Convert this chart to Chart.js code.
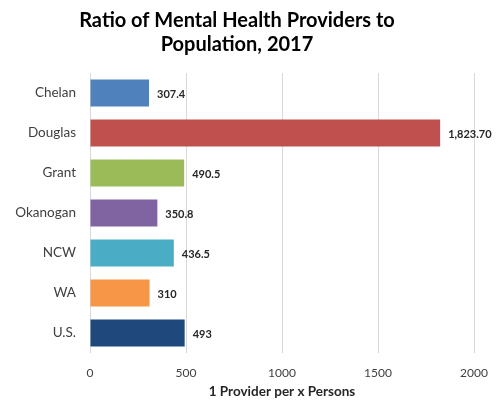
<!DOCTYPE html>
<html lang="en">
<head>
    <meta charset="UTF-8">
    <title>Ratio of Mental Health Providers to Population, 2017</title>
    <script src="https://cdn.jsdelivr.net/npm/chart.js"></script>
    <style>
        body { margin: 0; background: white; }
        #wrap { width: 497px; height: 400px; }
    </style>
</head>
<body>
    <div id="wrap"><canvas id="ratioChart" width="497" height="400"></canvas></div>

    <script>
        const regions = ["Chelan", "Douglas", "Grant", "Okanogan", "NCW", "WA", "U.S."];
        const ratios = [307.4, 1823.7, 490.5, 350.8, 436.5, 310, 493];
        const ratioLabels = ["307.4", "1,823.70", "490.5", "350.8", "436.5", "310", "493"];
        const barColors = ["#4F81BD", "#C0504D", "#9BBB59", "#8064A2", "#4BACC6", "#F79646", "#1F497D"];
        const xTicks = [0, 500, 1000, 1500, 2000];

        // writes the value just past the end of each bar
        const valueLabels = {
            id: "valueLabels",
            afterDatasetsDraw(chart) {
                const ctx = chart.ctx;
                ctx.save();
                ctx.font = "bold 11px Lato";
                ctx.fillStyle = "#262626";
                ctx.textAlign = "left";
                ctx.textBaseline = "middle";
                chart.getDatasetMeta(0).data.forEach((bar, i) => {
                    ctx.fillText(ratioLabels[i], bar.x + 8, bar.y + 1);
                });
                ctx.restore();
            }
        };

        new Chart(document.getElementById("ratioChart").getContext("2d"), {
            type: "bar",
            data: {
                labels: regions,
                datasets: [{
                    data: ratios,
                    backgroundColor: barColors,
                    categoryPercentage: 1,
                    barPercentage: 0.67
                }]
            },
            options: {
                indexAxis: "y",
                responsive: false,
                animation: false,
                layout: { padding: { left: 0, right: 23, top: 0, bottom: 0 } },
                plugins: {
                    legend: { display: false },
                    tooltip: { enabled: false },
                    title: {
                        display: true,
                        text: ["Ratio of Mental Health Providers to", "Population, 2017"],
                        color: "#000000",
                        font: { family: "Lato", size: 20, weight: "bold" },
                        padding: { top: 9, bottom: 16 }
                    }
                },
                scales: {
                    x: {
                        min: 0,
                        max: 2000,
                        afterBuildTicks(scale) { scale.ticks = xTicks.map(v => ({ value: v })); },
                        afterFit(scale) {
                            scale.height = 47;
                            scale.paddingRight = 0;
                        },
                        grid: { color: "#d9d9d9", drawTicks: false },
                        border: { display: false },
                        ticks: {
                            color: "#404040",
                            font: { family: "Lato", size: 12 },
                            padding: 13,
                            callback: v => String(v)
                        },
                        title: {
                            display: true,
                            text: "1 Provider per x Persons",
                            color: "#262626",
                            font: { family: "Lato", size: 13.5, weight: "bold" },
                            padding: { top: 2, bottom: 0 }
                        }
                    },
                    y: {
                        afterFit(scale) { scale.width = 90; },
                        grid: { display: false, drawTicks: false },
                        border: { display: false },
                        ticks: { color: "#404040", font: { family: "Lato", size: 13.5 }, padding: 14 }
                    }
                }
            },
            plugins: [valueLabels]
        });
    </script>
</body>
</html>
